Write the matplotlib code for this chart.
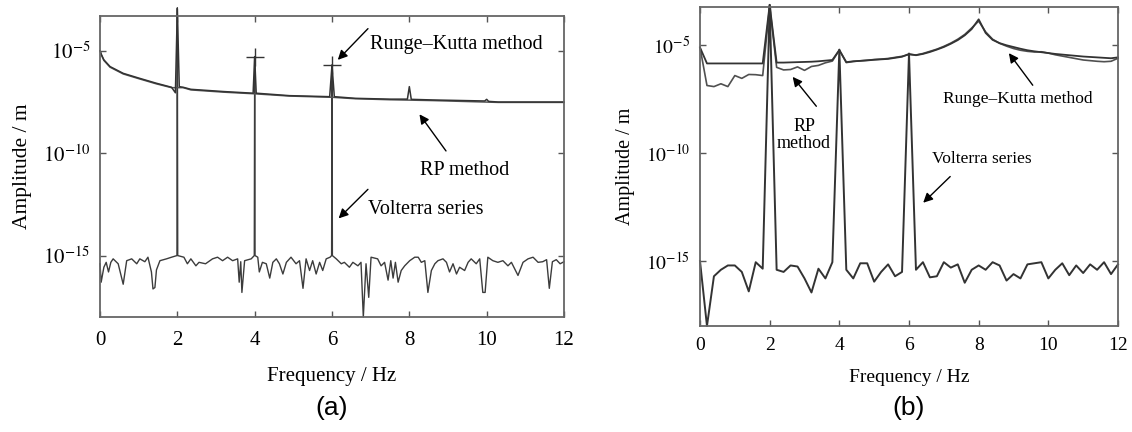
import numpy as np
import matplotlib
matplotlib.use('Agg')
from matplotlib import pyplot as plt
from matplotlib.ticker import NullLocator

plt.rcParams['font.family'] = ['Liberation Serif', 'DejaVu Serif']
plt.rcParams['mathtext.fontset'] = 'stix'

# ---- panel (a): log10 amplitude values ----
rk_a_freq = [0, 0.04, 0.1, 0.26, 0.6, 1.0, 1.45, 1.85, 1.95, 2.0, 2.05, 2.15, 2.35,
             3.2, 3.96, 4.0, 4.04, 4.9, 5.94, 6.0, 6.06, 6.6, 7.5, 7.95, 8.0, 8.05,
             8.6, 9.95, 10.0, 10.05, 10.3, 12]
rk_a_log = [-5.0, -5.2, -5.44, -5.77, -6.1, -6.33, -6.58, -6.78, -7.05, -2.95, -6.75,
            -6.78, -6.88, -6.99, -7.07, -5.3, -7.07, -7.19, -7.24, -5.7, -7.24, -7.32,
            -7.36, -7.36, -6.75, -7.37, -7.4, -7.45, -7.37, -7.47, -7.5, -7.5]

rp_a_freq = [0, 0.04, 0.1, 0.26, 0.6, 1.0, 1.45, 1.85, 2.15, 2.35, 3.2, 4.0, 4.9, 6.0,
             6.6, 7.5, 8.6, 10.3, 12]
rp_a_log = [-5.0, -5.22, -5.47, -5.8, -6.13, -6.36, -6.61, -6.8, -6.8, -6.91, -7.02,
            -7.1, -7.21, -7.27, -7.34, -7.39, -7.43, -7.52, -7.52]

vol_a_freq = [0.0, 0.03, 0.10, 0.16, 0.22, 0.28, 0.34, 0.47, 0.60, 0.69, 0.82, 0.95,
              1.03, 1.16, 1.24, 1.33, 1.37, 1.42, 1.46, 1.55, 1.72, 1.85, 1.99, 2.0,
              2.01, 2.17, 2.26, 2.35, 2.48, 2.56, 2.73, 2.91, 3.04, 3.17, 3.30, 3.43,
              3.56, 3.60, 3.64, 3.67, 3.74, 3.91, 3.99, 4.0, 4.01, 4.08, 4.12, 4.20,
              4.30, 4.39, 4.47, 4.56, 4.64, 4.73, 4.82, 4.94, 5.07, 5.16, 5.25, 5.33,
              5.42, 5.50, 5.59, 5.68, 5.76, 5.85, 5.95, 5.99, 6.0, 6.01, 6.11, 6.24,
              6.32, 6.45, 6.54, 6.67, 6.75, 6.81, 6.88, 6.95, 7.01, 7.18, 7.27, 7.36,
              7.45, 7.52, 7.58, 7.64, 7.71, 7.79, 7.88, 8.01, 8.14, 8.23, 8.31, 8.40,
              8.48, 8.57, 8.66, 8.74, 8.87, 8.96, 9.04, 9.13, 9.22, 9.30, 9.43, 9.52,
              9.60, 9.73, 9.82, 9.90, 9.96, 10.03, 10.16, 10.29, 10.42, 10.55, 10.64,
              10.81, 10.94, 11.07, 11.20, 11.33, 11.45, 11.55, 11.62, 11.70, 11.80,
              11.90, 12.00]
vol_a_log = [-15.4, -16.3, -15.57, -15.33, -15.8, -15.33, -15.16, -15.4, -16.4, -15.25,
             -15.16, -15.4, -15.16, -15.3, -15.08, -15.8, -16.63, -16.56, -15.7, -15.25,
             -15.16, -15.08, -15.0, -2.9, -15.0, -15.08, -15.4, -15.16, -15.5, -15.33,
             -15.4, -15.16, -15.08, -15.25, -15.08, -15.25, -15.16, -16.3, -15.3, -16.8,
             -15.25, -15.16, -15.0, -5.28, -15.0, -15.08, -15.8, -15.33, -15.4, -16.1,
             -15.33, -15.16, -15.4, -15.9, -15.33, -15.08, -15.4, -15.25, -16.6, -15.16,
             -15.73, -15.25, -15.9, -15.33, -15.73, -15.16, -15.08, -15.0, -5.69, -15.0,
             -15.16, -15.4, -15.33, -15.57, -15.33, -15.5, -15.33, -18.0, -15.4, -17.04,
             -15.08, -15.16, -15.5, -15.33, -16.2, -15.25, -16.1, -15.33, -16.3, -15.73,
             -15.5, -15.25, -15.08, -15.08, -15.33, -15.25, -16.8, -15.73, -15.4, -15.25,
             -15.16, -15.33, -15.8, -15.4, -15.9, -15.57, -15.73, -15.33, -15.16, -15.4,
             -15.16, -16.8, -16.8, -15.08, -15.25, -15.33, -15.25, -15.5, -15.33, -15.97,
             -15.33, -15.16, -15.08, -15.33, -15.3, -15.2, -16.6, -15.3, -15.2, -15.4,
             -15.3]

peak_a_freq = [4, 6]
peak_a_log = [-5.28, -5.69]

# ---- panel (b): 0.2 Hz grid ----
freq_b = np.linspace(0, 12, 61)
vol_b_log = [-15.0, -18.0, -15.7, -15.4, -15.2, -15.2, -15.5, -16.4, -15.05, -15.35,
             -3.15, -15.4, -15.5, -15.2, -15.25, -15.8, -16.45, -15.35, -15.8, -15.05,
             -5.22, -15.4, -15.8, -15.1, -15.1, -15.95, -15.5, -15.15, -15.7, -15.5,
             -5.4, -15.4, -15.05, -15.75, -15.7, -15.05, -15.3, -15.15, -16.0, -15.4,
             -15.2, -15.4, -15.05, -15.2, -15.9, -15.6, -15.8, -15.15, -15.1, -15.05,
             -15.8, -15.4, -15.1, -15.65, -15.2, -15.55, -15.15, -15.4, -15.05, -15.6,
             -15.15]
rk_b_log = [-5.12, -5.86, -5.86, -5.86, -5.86, -5.86, -5.86, -5.86, -5.86, -5.86,
            -3.15, -5.82, -5.82, -5.81, -5.8, -5.79, -5.78, -5.76, -5.73, -5.7,
            -5.24, -5.8, -5.76, -5.74, -5.72, -5.69, -5.67, -5.65, -5.6, -5.55,
            -5.42, -5.48, -5.42, -5.33, -5.22, -5.1, -4.95, -4.78, -4.56, -4.27,
            -3.82, -4.45, -4.77, -4.92, -5.02, -5.1, -5.18, -5.25, -5.3, -5.34,
            -5.38, -5.42, -5.45, -5.48, -5.51, -5.54, -5.56, -5.58, -5.6, -5.62,
            -5.58]
rp_b_log = [-5.12, -6.88, -6.93, -6.8, -6.93, -6.42, -6.55, -6.37, -6.38, -6.42,
            -3.2, -6.04, -6.16, -6.14, -6.02, -6.18, -6.0, -5.95, -5.83, -5.75,
            -5.24, -5.82, -5.77, -5.74, -5.71, -5.68, -5.66, -5.63, -5.58, -5.53,
            -5.45, -5.47, -5.4, -5.3, -5.2, -5.07, -4.92, -4.74, -4.52, -4.22,
            -3.9, -4.4, -4.74, -4.93, -5.06, -5.17, -5.25, -5.3, -5.33, -5.32,
            -5.38, -5.46, -5.52, -5.58, -5.64, -5.7, -5.73, -5.76, -5.78, -5.76,
            -5.62]

xticks = [0, 2, 4, 6, 8, 10, 12]
yticks = [1e-15, 1e-10, 1e-5]
ylabels = [r'$10^{-15}$', r'$10^{-10}$', r'$10^{-5}$']

def p(v):
    return 10.0 ** np.array(v)

fig = plt.figure(figsize=(11.32, 4.32), dpi=100)
ax1 = fig.add_axes([100 / 1132, 1 - 317 / 432, 464 / 1132, 301 / 432])
ax2 = fig.add_axes([700 / 1132, 1 - 326 / 432, 418 / 1132, 319 / 432])

lc = '#333333'
ax1.plot(vol_a_freq, p(vol_a_log), color='#3c3c3c', lw=1.0, clip_on=False)
ax1.plot(rp_a_freq, p(rp_a_log), color='#555555', lw=1.1, clip_on=False)
ax1.plot(rk_a_freq, p(rk_a_log), color=lc, lw=1.1, clip_on=False)
ax1.plot(peak_a_freq, p(peak_a_log), ls='none', marker='+', ms=13, mew=1.0, color=lc)

ax2.plot(freq_b, p(rp_b_log), color='#505050', lw=1.2, clip_on=False)
ax2.plot(freq_b, p(rk_b_log), color=lc, lw=1.3, clip_on=False)
ax2.plot(freq_b, p(vol_b_log), color=lc, lw=1.4, clip_on=False)

for ax, fs, top, xpad, lpad in [(ax1, 15, 10 ** -3.3, 10, 12), (ax2, 14, 10 ** -3.25, 8, 11)]:
    ax.set_yscale('log')
    ax.set_xlim(0, 12)
    ax.set_ylim(1e-18, top)
    ax.set_xticks(xticks)
    ax.set_xticklabels([str(t) for t in xticks])
    ax.set_yticks(yticks)
    ax.set_yticklabels(ylabels)
    ax.yaxis.set_minor_locator(NullLocator())
    ax.tick_params(axis='both', direction='in', top=True, right=True, length=4,
                   width=1, color='#555555', labelsize=fs)
    ax.tick_params(axis='x', pad=xpad)
    ax.tick_params(axis='y', pad=7)
    for s in ax.spines.values():
        s.set_color('#666666')
        s.set_linewidth(1.3)
    ax.set_xlabel('Frequency / Hz', fontsize=fs, labelpad=lpad)
    ax.set_ylabel('Amplitude / m', fontsize=fs + 0.5, labelpad=8)

arw = dict(arrowstyle='-|>', color='black', lw=1.0, mutation_scale=14)

# panel (a) labels
ax1.annotate('', xy=(6.1, 10 ** -5.54), xytext=(6.98, 10 ** -3.82), arrowprops=arw,
             annotation_clip=False)
ax1.text(6.98, 10 ** -4.7, 'Runge\u2013Kutta method', fontsize=14.5, va='center', ha='left')
ax1.annotate('', xy=(8.22, 10 ** -7.99), xytext=(8.99, 10 ** -10.0), arrowprops=arw)
ax1.text(9.42, 10 ** -10.83, 'RP method', fontsize=14.5, va='center', ha='center')
ax1.annotate('', xy=(6.12, 10 ** -13.28), xytext=(6.98, 10 ** -11.67), arrowprops=arw)
ax1.text(6.93, 10 ** -12.75, 'Volterra series', fontsize=14.5, va='center', ha='left')

# panel (b) labels
ax2.annotate('', xy=(8.82, 10 ** -5.28), xytext=(9.6, 10 ** -6.97), arrowprops=arw)
ax2.text(6.98, 10 ** -7.52, 'Runge\u2013Kutta method', fontsize=12.5, va='center', ha='left')
ax2.annotate('', xy=(2.61, 10 ** -6.38), xytext=(3.39, 10 ** -7.94), arrowprops=arw)
ax2.text(2.99, 10 ** -9.15, 'RP\nmethod', fontsize=13, va='center', ha='center',
         linespacing=1.0)
ax2.annotate('', xy=(6.35, 10 ** -12.39), xytext=(7.24, 10 ** -11.0), arrowprops=arw)
ax2.text(6.67, 10 ** -10.28, 'Volterra series', fontsize=12.5, va='center', ha='left')

fig.text(332 / 1132, 1 - 408 / 432, '(a)', fontsize=19, family='Liberation Sans',
         ha='center', va='center')
fig.text(909 / 1132, 1 - 408 / 432, '(b)', fontsize=19, family='Liberation Sans',
         ha='center', va='center')

fig.savefig('out.png', dpi=100)
